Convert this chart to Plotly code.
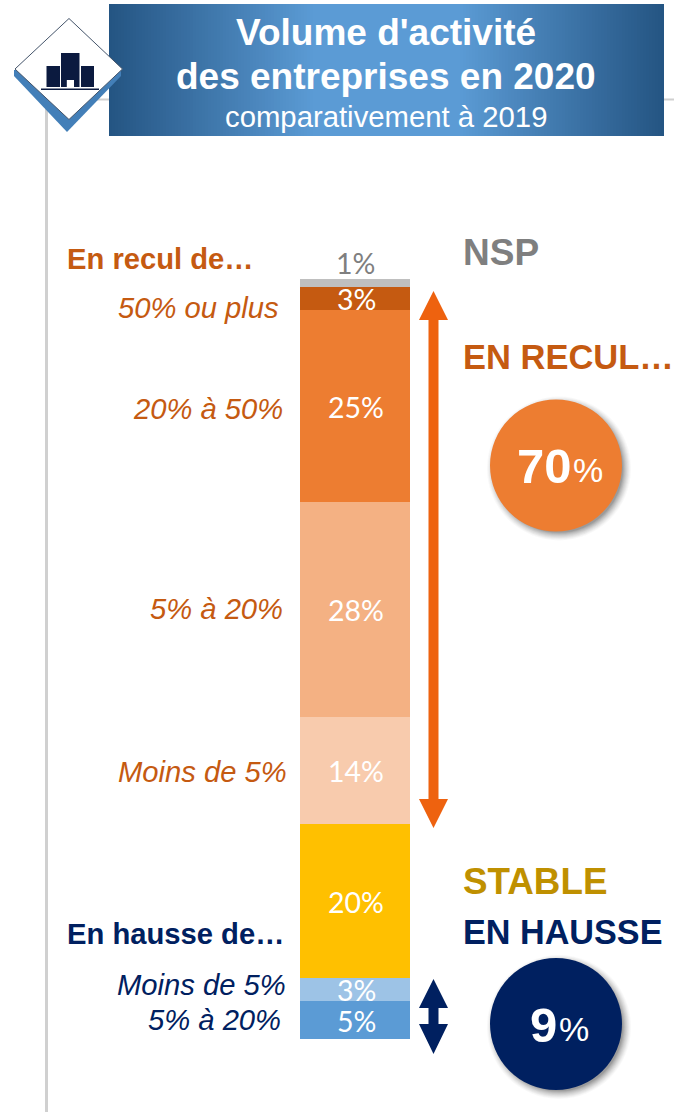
import plotly.graph_objects as go

W, H = 674, 1112

# Data
segments = ["5% à 20% (hausse)", "Moins de 5% (hausse)", "Stable", "Moins de 5%", "5% à 20%", "20% à 50%", "50% ou plus", "NSP"]
values = [5, 3, 20, 14, 28, 25, 3, 1]
bar_colors = ["#5B9BD5", "#9DC3E6", "#FFC000", "#F8CBAD", "#F4B183", "#ED7D31", "#C55A11", "#BFBFBF"]
label_colors = ["#FFFFFF"] * 7 + ["#7F7F7F"]
left_labels = ["5% à 20%", "Moins de 5%", "Moins de 5%", "5% à 20%", "20% à 50%", "50% ou plus"]
left_colors = ["#002060", "#002060", "#C55A11", "#C55A11", "#C55A11", "#C55A11"]
left_right_edges = [283, 288, 289, 285, 285, 281]
left_y = [1020, 985, 772, 609, 409, 308]
recul_total = "70"
hausse_total = "9"

ORANGE = "#ED7D31"
NAVY = "#002060"
DARK_ORANGE = "#C55A11"

fx = lambda x: x / W
fy = lambda y: 1 - y / H

fig = go.Figure()
BAR_X = "Volume"
total = sum(values)
base = 0
for name, v, c, lc in zip(segments, values, bar_colors, label_colors):
    fig.add_trace(go.Bar(x=[BAR_X], y=[v], name=name, marker=dict(color=c, line=dict(width=0)), showlegend=False,
                         hoverinfo="skip"))
    if name != "NSP":
        fig.add_annotation(x=BAR_X, y=base + v / 2, xref="x", yref="y", text=f"{v}%", showarrow=False,
                           font=dict(family="Lato", size=28.5, color=lc), yshift=-1, xshift=1)
    base += v
fig.add_annotation(x=BAR_X, y=total, xref="x", yref="y", text=f"{values[-1]}%", showarrow=False, yanchor="bottom",
                   yshift=-3, xshift=0, font=dict(family="Lato", size=28.5, color=label_colors[-1]))

shapes = []

def rect(x0, y0, x1, y1, color, layer="below"):
    shapes.append(dict(type="rect", xref="paper", yref="paper", x0=fx(x0), x1=fx(x1), y0=fy(y1), y1=fy(y0),
                       fillcolor=color, line=dict(width=0), layer=layer))

def poly(pts, color, layer="above", line=None):
    d = "M" + " L".join(f"{fx(x):.5f},{fy(y):.5f}" for x, y in pts) + " Z"
    shapes.append(dict(type="path", xref="paper", yref="paper", path=d, fillcolor=color,
                       line=line or dict(width=0), layer=layer))

def circle(cx, cy, r, color, opacity=1):
    shapes.append(dict(type="circle", xref="paper", yref="paper", x0=fx(cx - r), x1=fx(cx + r), y0=fy(cy + r),
                       y1=fy(cy - r), fillcolor=color, opacity=opacity, line=dict(width=0), layer="above"))

# Grey rules
rect(45, 99, 48, H, "#D0D0D0")
rect(48, 98.5, W, 100.5, "#D0D0D0")

# Header gradient, in whole-pixel slices
x0, x1 = 109, 664
step = 3
c_edge = (36, 84, 130)
c_mid = (91, 155, 213)
n = (x1 - x0) // step
for i in range(n):
    t = (i + 0.5) / n
    k = min(1, (1 - abs(2 * t - 1)) * 1.35)
    col = tuple(round(c_edge[j] + (c_mid[j] - c_edge[j]) * k) for j in range(3))
    rect(x0 + step * i, 4, x0 + step * (i + 1), 136, f"rgb{col}", layer="above")

# Diamond logo
poly([(14, 76), (67, 132), (121, 76), (121, 70), (14, 70)], "#437FB8")
poly([(69, 18.5), (122.5, 69), (69, 119.5), (15, 69)], "#FFFFFF", line=dict(width=1, color="#44546A"))
rect(46.5, 66, 60, 87, "#0B1A3F", layer="above")
rect(61, 53, 79.5, 87, "#0B1A3F", layer="above")
rect(81, 66, 94, 87, "#0B1A3F", layer="above")
rect(66.8, 80, 74, 87, "#FFFFFF", layer="above")
rect(41, 88.5, 99, 90, "#0B1A3F", layer="above")

# Double arrows
def double_arrow(top, base_top, base_bot, bot, color):
    cx, hw, sw = 433.5, 14.5, 5
    poly([(cx, top), (cx + hw, base_top), (cx + sw, base_top), (cx + sw, base_bot), (cx + hw, base_bot), (cx, bot),
          (cx - hw, base_bot), (cx - sw, base_bot), (cx - sw, base_top), (cx - hw, base_top)], color)

double_arrow(291, 320, 799, 828, "#EE620F")
double_arrow(979, 1008, 1024, 1054, NAVY)

# Circles with soft shadows
for cx, cy, col in [(556, 465.5, ORANGE), (556, 1024, NAVY)]:
    for r_add, op in [(6, 0.03), (5, 0.04), (4, 0.05), (3, 0.06), (2, 0.07), (1, 0.08), (0, 0.1), (-1, 0.12), (-2, 0.14)]:
        circle(cx + 3, cy + 3, 66 + r_add, "#404040", op)
    circle(cx, cy, 66, col)

def text(x, y, s, size, color, bold=False, italic=False, anchor="center", family="Liberation Sans"):
    if bold:
        s = f"<b>{s}</b>"
    if italic:
        s = f"<i>{s}</i>"
    fig.add_annotation(x=fx(x), y=fy(y), xref="paper", yref="paper", text=s, showarrow=False, xanchor=anchor,
                       yanchor="middle", font=dict(family=family, size=size, color=color))

# Title
text(386, 32, "Volume d'activité", 37, "#FFFFFF", bold=True)
text(386, 76, "des entreprises en 2020", 37, "#FFFFFF", bold=True)
text(386, 116, "comparativement à 2019", 29.3, "#FFFFFF")

# Left labels
text(65, 259, "En recul de…", 29.2, DARK_ORANGE, bold=True, anchor="left")
text(65, 934, "En hausse de…", 29.2, NAVY, bold=True, anchor="left")
for s, c, r, y in zip(left_labels, left_colors, left_right_edges, left_y):
    text(r, y, s, 29.2, c, italic=True, anchor="right")

# Right labels
text(461, 252, "NSP", 37, "#7F7F7F", bold=True, anchor="left")
text(461, 357, "EN RECUL…", 34.5, DARK_ORANGE, bold=True, anchor="left")
text(461, 881, "STABLE", 36.8, "#BF9000", bold=True, anchor="left")
text(461, 932, "EN HAUSSE", 34.2, NAVY, bold=True, anchor="left")

# Circle values: bold number with a lighter percent sign beside it
text(573.5, 466, recul_total, 49, "#FFFFFF", bold=True, anchor="right")
text(570.5, 470, "%", 34, "#FFFFFF", anchor="left")
text(559, 1025, hausse_total, 49, "#FFFFFF", bold=True, anchor="right")
text(556.5, 1029, "%", 34, "#FFFFFF", anchor="left")

fig.update_layout(
    width=W, height=H, margin=dict(l=0, r=0, t=0, b=0), autosize=False,
    barmode="stack", bargap=0, paper_bgcolor="#FFFFFF", plot_bgcolor="rgba(0,0,0,0)",
    xaxis=dict(domain=[300 / W, 410 / W], visible=False, fixedrange=True),
    yaxis=dict(domain=[1 - 1039 / H, 1 - 279 / H], range=[0, total], visible=False, fixedrange=True),
    shapes=shapes, hovermode=False,
)

fig.write_html("out.html", config=dict(displayModeBar=False),
               post_script="document.body.style.margin='0';document.body.style.overflow='hidden';")
